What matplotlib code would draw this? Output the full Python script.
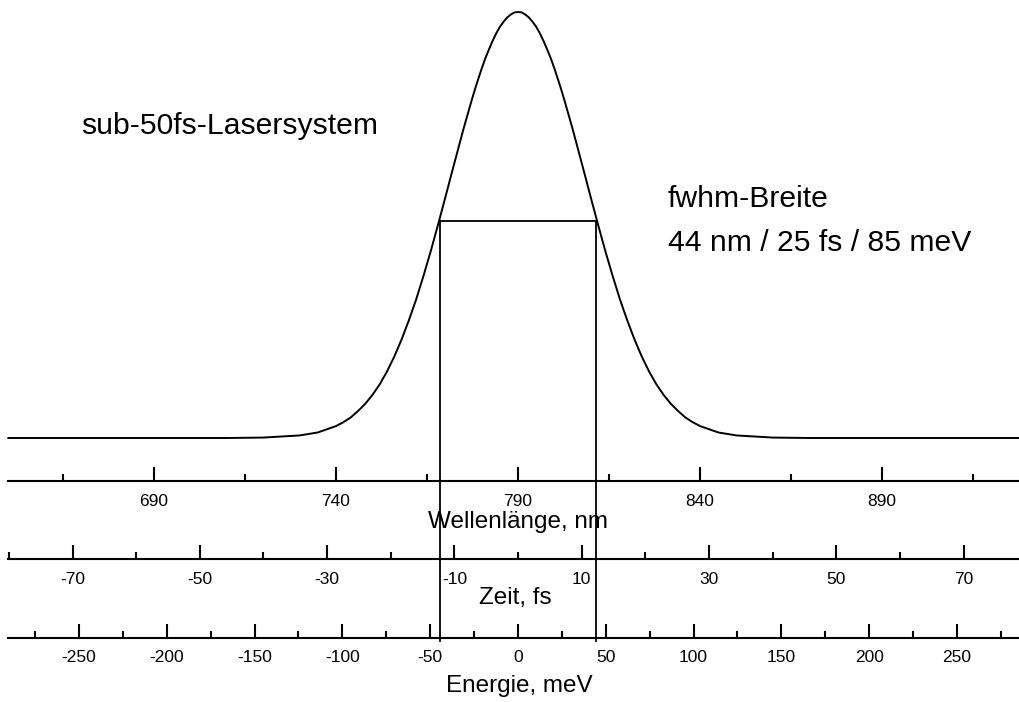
import matplotlib.pyplot as plt
import numpy as np

plt.rcParams['font.family'] = ['Liberation Sans', 'DejaVu Sans']

# Spectrum (wavelength in nm, relative intensity)
wavelength = [650, 670, 690, 710, 720, 730, 735, 740, 742, 744, 746, 748, 750,
              752, 754, 756, 758, 760, 762, 764, 766, 768, 770, 772, 774, 775,
              776, 777, 778, 779, 780, 781, 782, 783, 784, 785, 786, 787, 788,
              789, 790, 791, 792, 793, 794, 795, 796, 797, 798, 799, 800, 801,
              802, 803, 804, 805, 806, 808, 810, 812, 814, 816, 818, 820, 822,
              824, 826, 828, 830, 832, 834, 836, 838, 840, 845, 850, 860, 870,
              880, 890, 910, 928]
intensity = [0.000, 0.000, 0.000, 0.000, 0.001, 0.006, 0.013, 0.028, 0.037,
             0.048, 0.063, 0.080, 0.101, 0.126, 0.156, 0.191, 0.231, 0.276,
             0.325, 0.380, 0.438, 0.500, 0.564, 0.629, 0.693, 0.725, 0.755,
             0.785, 0.814, 0.841, 0.867, 0.891, 0.912, 0.932, 0.950, 0.965,
             0.977, 0.987, 0.994, 0.999, 1.000, 0.999, 0.994, 0.987, 0.977,
             0.965, 0.950, 0.932, 0.912, 0.891, 0.867, 0.841, 0.814, 0.785,
             0.755, 0.725, 0.693, 0.629, 0.564, 0.500, 0.438, 0.380, 0.325,
             0.276, 0.231, 0.191, 0.156, 0.126, 0.101, 0.080, 0.063, 0.048,
             0.037, 0.028, 0.013, 0.006, 0.001, 0.000, 0.000, 0.000, 0.000,
             0.000]

# fwhm bracket (nm) and its height on the curve
fwhm_left = 768.5
fwhm_right = 811.5
fwhm_level = 0.51

# Scales below the curve
wl_major = [690, 740, 790, 840, 890]
wl_minor = [665, 715, 765, 815, 865, 915]
t_major = [-70, -50, -30, -10, 10, 30, 50, 70]
t_minor = [-80, -60, -40, -20, 0, 20, 40, 60]
e_major = [-250, -200, -150, -100, -50, 0, 50, 100, 150, 200, 250]
e_minor = [-275, -225, -175, -125, -75, -25, 25, 75, 125, 175, 225, 275]

W, H = 1019, 702
fig = plt.figure(figsize=(W / 100, H / 100), dpi=100)

left = 8 / W
width = 1 - left

# curve axes: baseline at y=438 px, peak at y=12 px
ax = fig.add_axes([left, (H - 438) / H, width, 426 / H])
ax.plot(wavelength, intensity, color='black', lw=1.4, clip_on=False,
        solid_joinstyle='round')
ax.set_xlim(649.9, 927.6)
ax.set_ylim(0, 1)
ax.axis('off')

# fwhm bracket, vertical lines run down to the energy scale
y_bottom = (438 - 641) / 426
ax.plot([fwhm_left, fwhm_right], [fwhm_level, fwhm_level], color='black',
        lw=1.3, clip_on=False)
ax.plot([fwhm_left, fwhm_left], [fwhm_level, y_bottom], color='black',
        lw=1.3, clip_on=False)
ax.plot([fwhm_right, fwhm_right], [fwhm_level, y_bottom], color='black',
        lw=1.3, clip_on=False)


def scale_axis(y_px, xlim, major, minor):
    a = fig.add_axes([left, (H - y_px) / H, width, 0.02])
    a.patch.set_visible(False)
    for s in ['top', 'left', 'right']:
        a.spines[s].set_visible(False)
    a.spines['bottom'].set_linewidth(1.5)
    a.set_xlim(*xlim)
    a.set_yticks([])
    a.set_xticks(major)
    a.set_xticklabels([str(v) for v in major])
    a.set_xticks(minor, minor=True)
    a.tick_params(axis='x', which='major', direction='in', length=10,
                  width=1.5, pad=9, labelsize=12.5)
    a.tick_params(axis='x', which='minor', direction='in', length=5,
                  width=1.5)
    return a


scale_axis(481, (649.9, 927.6), wl_major, wl_minor)
scale_axis(559, (-80.14, 78.72), t_major, t_minor)
scale_axis(638, (-290.4, 285.3), e_major, e_minor)

fig.text(518 / W, 1 - 522 / H, 'Wellenlänge, nm', ha='center', va='center',
         fontsize=17.5)
fig.text(515 / W, 1 - 598 / H, 'Zeit, fs', ha='center', va='center',
         fontsize=17.5)
fig.text(519 / W, 1 - 686 / H, 'Energie, meV', ha='center', va='center',
         fontsize=17.5)

fig.text(81 / W, 1 - 126 / H, 'sub-50fs-Lasersystem', ha='left',
         va='center', fontsize=21.7)
fig.text(668 / W, 1 - 199 / H, 'fwhm-Breite', ha='left', va='center',
         fontsize=21.7)
fig.text(668 / W, 1 - 243 / H, '44 nm / 25 fs / 85 meV', ha='left',
         va='center', fontsize=21.7)

fig.savefig('out.png', dpi=100)
